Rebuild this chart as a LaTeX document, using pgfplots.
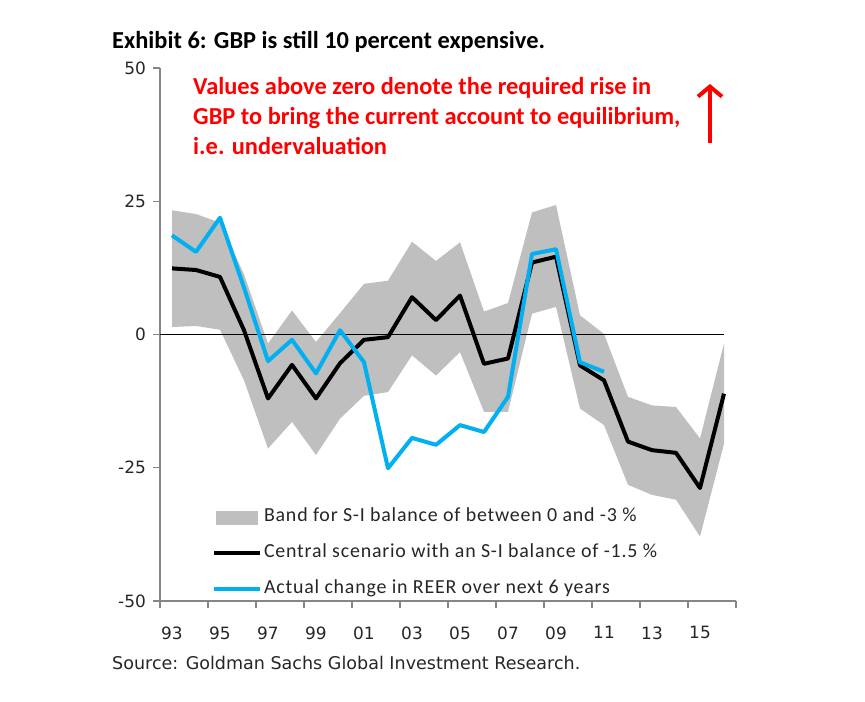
\documentclass[border=0pt]{standalone}
\usepackage{fontspec}
\setmainfont{Carlito}
\newfontfamily\dvsans{DejaVu Sans}
\newfontfamily\legfont[LetterSpace=4]{Carlito}
\usepackage{pgfplots}
\pgfplotsset{compat=1.18}
\usetikzlibrary{arrows.meta}
\definecolor{bandgray}{HTML}{BFBFBF}
\definecolor{reer}{HTML}{00B0F0}
\definecolor{axgray}{HTML}{868686}
\definecolor{txtgray}{HTML}{262626}

\pgfplotstableread{
year central
1993 12.4
1994 12.1
1995 10.8
1996 0.8
1997 -12.0
1998 -5.7
1999 -12.0
2000 -5.4
2001 -1.0
2002 -0.5
2003 7.0
2004 2.7
2005 7.3
2006 -5.5
2007 -4.5
2008 13.5
2009 14.6
2010 -5.8
2011 -8.6
2012 -20.1
2013 -21.7
2014 -22.2
2015 -28.8
2016 -11.1
}\centraltab

\pgfplotstableread{
year reer
1993 18.6
1994 15.5
1995 21.9
1996 8.8
1997 -5.0
1998 -1.0
1999 -7.3
2000 0.8
2001 -5.2
2002 -25.1
2003 -19.4
2004 -20.7
2005 -17.0
2006 -18.3
2007 -11.7
2008 15.1
2009 16.0
2010 -5.2
2011 -7.0
}\reertab

% band: upper edge 1993->2016, then lower edge 2016->1993
\pgfplotstableread{
year value
1993 23.3
1994 22.6
1995 21.0
1996 11.3
1997 -1.7
1998 4.5
1999 -1.4
2000 4.0
2001 9.5
2002 10.1
2003 17.4
2004 13.8
2005 17.3
2006 4.3
2007 5.9
2008 22.9
2009 24.3
2010 3.6
2011 0.1
2012 -11.7
2013 -13.3
2014 -13.6
2015 -19.5
2016 -1.7
2016 -20.5
2015 -37.9
2014 -31.0
2013 -30.1
2012 -28.2
2011 -17.0
2010 -13.9
2009 5.2
2008 3.9
2007 -14.5
2006 -14.5
2005 -3.3
2004 -7.7
2003 -3.9
2002 -10.8
2001 -11.5
2000 -15.8
1999 -22.6
1998 -16.4
1997 -21.4
1996 -8.6
1995 0.9
1994 1.6
1993 1.4
}\bandtab

\begin{document}
\begin{tikzpicture}
\begin{axis}[
  at={(160bp,101bp)}, anchor=south west,
  scale only axis, width=576bp, height=533bp,
  xmin=1992.5, xmax=2016.5, ymin=-50, ymax=50,
  axis x line*=bottom, axis y line*=left,
  axis line style={axgray, line width=1.3bp},
  tick align=outside, major tick length=7bp,
  tick style={axgray, line width=1.3bp},
  xtick={1992.5,1994.5,1996.5,1998.5,2000.5,2002.5,2004.5,2006.5,2008.5,2010.5,2012.5,2014.5,2016.5},
  xticklabels={},
  extra x ticks={1993,1995,1997,1999,2001,2003,2005,2007,2009,2011,2013,2015},
  extra x tick labels={93,95,97,99,01,03,05,07,09,11,13,15},
  extra x tick style={major tick length=0pt, xticklabel style={yshift=-22bp}},
  ytick={-50,-25,0,25,50},
  yticklabels={-50,-25,0,25,50},
  ticklabel style={font=\dvsans\fontsize{17}{18}\selectfont, text=txtgray},
  yticklabel style={inner sep=3bp, xshift=-4bp},
  clip=false,
  legend style={at={(rel axis cs:0.0903,0.1745)}, anchor=north west, draw=none, fill=none,
    inner sep=0pt, outer sep=0pt,
    font=\legfont\fontsize{20}{22}\selectfont, text=txtgray,
    nodes={inner sep=0pt, text height=14bp, text depth=5bp},
    row sep=16.8bp, column sep=2bp},
  legend cell align=left,
]
\addplot[fill=bandgray, draw=none, forget plot] table[x=year, y=value] {\bandtab} -- cycle;
\addplot[black, line width=1.3bp, forget plot] coordinates {(1992.5,0) (2016,0)};
\addplot[black, line width=4bp, line join=round, forget plot] table[x=year, y=central] {\centraltab};
\addplot[reer, line width=4bp, line join=round, forget plot] table[x=year, y=reer] {\reertab};
\addlegendimage{legend image code/.code={\fill[bandgray] (2bp,-6.5bp) rectangle (43bp,6.5bp);}}
\addlegendentry{Band for S-I balance of between 0 and -3 \%}
\addlegendimage{legend image code/.code={\draw[black, line width=4bp] (0bp,0bp) -- (46bp,0bp);}}
\addlegendentry{Central scenario with an S-I balance of -1.5 \%}
\addlegendimage{legend image code/.code={\draw[reer, line width=4bp] (0bp,0bp) -- (46bp,0bp);}}
\addlegendentry{Actual change in REER over next 6 years}
\end{axis}
\node[anchor=west, inner sep=0pt, font=\bfseries\fontsize{24.5}{26}\selectfont, text=black] at (112bp,660bp) {Exhibit 6: GBP is still 10 percent expensive.};
\node[anchor=north west, inner sep=0pt, align=left, text=red, font=\bfseries\fontsize{24.5}{30}\selectfont] at (193bp,625bp) {Values above zero denote the required rise in\\GBP to bring the current account to equilibrium,\\i.e. undervaluation};
\draw[red, line width=4bp, -{Straight Barb[length=10bp, width=24bp, line width=4bp]}] (710bp,559bp) -- (710bp,618bp);
\node[anchor=west, inner sep=0pt, font=\dvsans\fontsize{17.6}{19}\selectfont, text=txtgray] at (112bp,39bp) {Source: Goldman Sachs Global Investment Research.};
\path (0bp,0bp) rectangle (865bp,702bp);
\end{tikzpicture}
\end{document}
